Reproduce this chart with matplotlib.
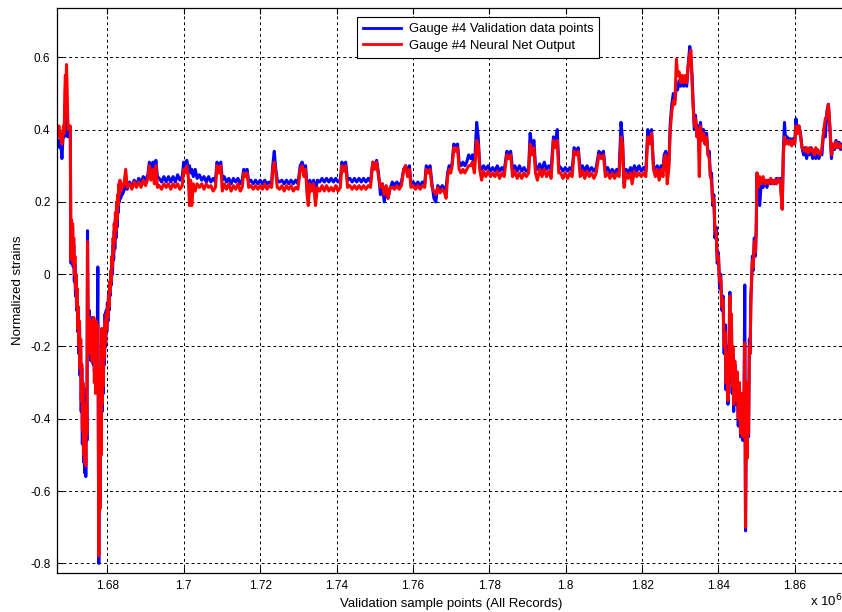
import numpy as np
import matplotlib
matplotlib.use('Agg')
import matplotlib.pyplot as plt

plt.rcParams['font.family'] = ['Liberation Sans', 'DejaVu Sans']
plt.rcParams['axes.unicode_minus'] = False

# sample index (thousands of samples)
x_k = [
    1666.9, 1667.1, 1667.3, 1667.5, 1667.7, 1667.9, 1668.1, 1668.3, 1668.5, 1668.7,
    1668.85, 1669.0, 1669.15, 1669.3, 1669.45, 1669.6, 1669.75, 1669.95, 1670.15, 1670.3,
    1670.4, 1670.5, 1670.6, 1670.75, 1670.9, 1671.05, 1671.2, 1671.35, 1671.5, 1671.65,
    1671.8, 1671.95, 1672.1, 1672.25, 1672.4, 1672.55, 1672.7, 1672.85, 1673.0, 1673.15,
    1673.3, 1673.45, 1673.6, 1673.75, 1673.9, 1674.05, 1674.2, 1674.35, 1674.5, 1674.65,
    1674.8, 1674.95, 1675.1, 1675.25, 1675.4, 1675.55, 1675.7, 1675.85, 1676.0, 1676.15,
    1676.3, 1676.45, 1676.6, 1676.75, 1676.9, 1677.05, 1677.2, 1677.35, 1677.5, 1677.6,
    1677.75, 1677.9, 1678.05, 1678.2, 1678.35, 1678.5, 1678.65, 1678.8, 1678.95, 1679.1,
    1679.25, 1679.4, 1679.55, 1679.7, 1679.85, 1680.0, 1680.15, 1680.3, 1680.45, 1680.6,
    1680.75, 1680.9, 1681.05, 1681.2, 1681.35, 1681.5, 1681.65, 1681.8, 1681.95, 1682.1,
    1682.25, 1682.4, 1682.55, 1682.7, 1682.85, 1683.0, 1683.15, 1683.3, 1683.5, 1683.7,
    1683.9,
    1684.3, 1684.8, 1685.2, 1685.8, 1686.4, 1687.0, 1687.6, 1688.2, 1688.8, 1689.4,
    1690.0, 1690.6, 1691.0, 1691.4, 1691.9, 1692.3, 1692.7, 1693.1, 1693.6, 1694.2,
    1694.8, 1695.4, 1696.0, 1696.6, 1697.2, 1697.8, 1698.4, 1699.0, 1699.6, 1700.0,
    1700.4, 1700.8, 1701.2, 1701.5, 1701.8, 1702.1, 1702.5, 1703.0, 1703.5, 1704.1,
    1704.7, 1705.3, 1705.9, 1706.5, 1707.1, 1707.7, 1708.3, 1708.7, 1709.2, 1709.7,
    1710.1, 1710.6, 1711.2, 1711.8, 1712.4, 1713.0, 1713.6, 1714.2, 1714.8, 1715.3,
    1715.7, 1716.2, 1716.6, 1717.0, 1717.6, 1718.2, 1718.8, 1719.4, 1720.0, 1720.6,
    1721.2, 1721.8, 1722.4, 1723.0, 1723.3, 1723.7, 1724.1, 1724.5, 1725.1, 1725.7,
    1726.3, 1726.9, 1727.5, 1728.1, 1728.7, 1729.3, 1729.9, 1730.5, 1731.0, 1731.5,
    1731.9, 1732.3, 1732.6, 1733.0, 1733.5, 1734.0, 1734.5, 1735.0, 1735.6, 1736.2,
    1736.8, 1737.4, 1738.0, 1738.6, 1739.2, 1739.8, 1740.4, 1741.0, 1741.4, 1741.9,
    1742.4, 1742.9, 1743.5, 1744.1, 1744.7, 1745.3, 1745.9, 1746.5, 1747.1, 1747.7,
    1748.3, 1748.9, 1749.5, 1750.0, 1750.5, 1751.0, 1751.5, 1752.0, 1752.5, 1753.0,
    1753.5, 1754.0, 1754.6, 1755.2, 1755.8, 1756.4, 1757.0, 1757.6, 1758.1, 1758.6,
    1759.1, 1759.5, 1760.1, 1760.7, 1761.3, 1761.9, 1762.5, 1763.1, 1763.5, 1764.0,
    1764.5, 1765.0, 1765.5, 1766.0, 1766.5, 1767.1, 1767.7, 1768.3, 1768.7, 1769.1,
    1769.5, 1769.9, 1770.3, 1770.7, 1771.2, 1771.7, 1772.1, 1772.6, 1773.1, 1773.6,
    1774.1, 1774.6, 1775.1, 1775.6, 1776.1, 1776.7, 1777.1, 1777.5, 1778.0, 1778.5,
    1779.1, 1779.7, 1780.3, 1780.9, 1781.5, 1782.1, 1782.7, 1783.3, 1783.9, 1784.6,
    1785.1, 1785.6, 1786.1, 1786.7, 1787.3, 1787.9, 1788.5, 1789.1, 1789.7, 1790.3,
    1790.7, 1791.2, 1791.7, 1792.1, 1792.6, 1793.2, 1793.8, 1794.4, 1795.0, 1795.6,
    1796.2, 1796.8, 1797.3, 1797.8, 1798.2, 1798.7, 1799.3, 1799.9, 1800.5, 1801.1,
    1801.7, 1802.2, 1802.8, 1803.3, 1803.8, 1804.4, 1805.0, 1805.6, 1806.2, 1806.8,
    1807.4, 1808.0, 1808.7, 1809.3, 1809.9, 1810.4, 1811.0, 1811.6, 1812.2, 1812.8,
    1813.4, 1814.0, 1814.5, 1814.9, 1815.3, 1815.8, 1816.4, 1817.0, 1817.4, 1818.0,
    1818.6, 1819.2, 1819.8, 1820.4, 1821.0, 1821.5, 1822.0, 1822.5, 1823.0, 1823.5,
    1824.0, 1824.5, 1825.0, 1825.5, 1825.8, 1826.2, 1826.6, 1827.0, 1827.4, 1827.8,
    1828.2, 1828.6, 1829.0, 1829.3, 1829.7, 1830.1, 1830.5, 1830.9, 1831.3, 1831.7,
    1832.1, 1832.5, 1832.8, 1833.1, 1833.4, 1833.7, 1834.0, 1834.4, 1834.7, 1835.0,
    1835.3, 1835.7, 1836.1, 1836.5, 1836.9, 1837.3, 1837.6, 1837.9, 1838.2, 1838.5,
    1838.8, 1839.1, 1839.4, 1839.7, 1840.0, 1840.3, 1840.6, 1840.9, 1841.2, 1841.5,
    1841.8, 1842.0, 1842.3, 1842.5, 1842.8, 1843.0, 1843.2, 1843.4, 1843.6, 1843.8,
    1844.0, 1844.3, 1844.6, 1844.9, 1845.2, 1845.5, 1845.8, 1846.1, 1846.4, 1846.7,
    1846.9, 1847.1, 1847.3, 1847.5, 1847.7, 1847.9, 1848.1, 1848.3, 1848.5, 1848.7,
    1848.9, 1849.1, 1849.4, 1849.7, 1849.9, 1850.1, 1850.4, 1850.8, 1851.2, 1851.7,
    1852.2, 1852.7, 1853.2, 1853.7, 1854.2, 1854.7, 1855.2, 1855.7, 1856.2, 1856.7,
    1857.0, 1857.3, 1857.6, 1858.0, 1858.4, 1858.8, 1859.2, 1859.6, 1860.0, 1860.3,
    1860.7, 1861.1, 1861.5, 1861.9, 1862.3, 1862.7, 1863.1, 1863.5, 1863.9, 1864.3,
    1864.7, 1865.1, 1865.5, 1865.9, 1866.3, 1866.7, 1867.1, 1867.6, 1868.0, 1868.4,
    1868.8, 1869.2, 1869.6, 1870.0, 1870.4, 1870.8, 1871.2, 1871.6, 1872.0, 1872.4,
    1872.8, 1873.2,
]

# Gauge #4 validation data
gauge = [
    .37, .36, .37, .35, .36, .35, .32, .36, .40, .38,
    .47, .44, .48, .46, .42, .38, .39, .40, .38, .39,
    .15, .03, .14, .05, .13, .02, .08, -.02, .03, -.06,
    -.01, -.10, -.05, -.16, -.10, -.22, -.14, -.28, -.18, -.38,
    -.26, -.47, -.31, -.52, -.38, -.55, -.41, -.56, -.32, -.46,
    .12, -.18, -.21, -.10, -.22, -.12, -.24, -.15, -.22, -.12,
    -.25, -.14, -.27, -.13, -.30, -.15, -.26, -.17, .02, -.35,
    -.80, -.44, -.63, -.28, -.50, -.17, -.38, -.20, -.33, -.15,
    -.25, -.11, -.20, -.10, -.16, -.08, -.13, -.05, -.10, -.03,
    -.06, .00, -.03, .03, .00, .08, .04, .12, .07, .15,
    .10, .18, .13, .21, .17, .22, .20, .24, .21, .23,
    .22,
    .23, .25, .235, .255, .24, .26, .245, .265, .255, .27,
    .26, .275, .31, .28, .31, .27, .315, .27, .265, .255,
    .27, .255, .27, .255, .27, .255, .275, .26, .27, .31,
    .30, .315, .29, .30, .28, .29, .27, .29, .265, .275,
    .26, .27, .255, .27, .255, .265, .255, .31, .295, .31,
    .26, .27, .255, .265, .25, .265, .255, .265, .25, .26,
    .29, .285, .29, .255, .26, .25, .26, .25, .26, .25,
    .26, .25, .255, .25, .30, .34, .29, .26, .255, .26,
    .25, .26, .25, .26, .25, .26, .25, .30, .31, .29,
    .30, .24, .21, .26, .24, .26, .23, .26, .255, .265,
    .255, .265, .255, .265, .255, .265, .255, .26, .31, .30,
    .31, .26, .265, .255, .265, .255, .265, .255, .265, .255,
    .265, .255, .31, .30, .315, .28, .22, .25, .20, .24,
    .21, .235, .255, .245, .255, .245, .255, .29, .30, .28,
    .30, .25, .255, .245, .255, .245, .255, .25, .30, .29,
    .30, .25, .21, .20, .245, .235, .245, .235, .24, .28,
    .30, .29, .31, .36, .355, .36, .31, .30, .31, .30,
    .31, .33, .32, .33, .29, .42, .38, .30, .29, .30,
    .29, .30, .285, .295, .285, .30, .285, .295, .285, .34,
    .33, .34, .29, .30, .285, .30, .285, .295, .285, .29,
    .39, .35, .37, .30, .29, .305, .29, .31, .29, .30,
    .29, .38, .36, .40, .30, .295, .285, .295, .285, .295,
    .285, .35, .34, .35, .29, .30, .285, .30, .285, .295,
    .285, .295, .34, .33, .34, .285, .295, .28, .29, .28,
    .29, .285, .42, .37, .25, .29, .28, .295, .28, .30,
    .285, .30, .285, .295, .285, .40, .37, .40, .30, .29,
    .30, .28, .30, .29, .33, .34, .32, .30, .42, .47,
    .50, .48, .52, .51, .535, .52, .535, .52, .53, .52,
    .58, .63, .60, .55, .47, .40, .44, .38, .41, .39,
    .42, .37, .40, .36, .39, .33, .34, .27, .28, .19,
    .22, .10, .13, .03, .06, -.04, .00, -.10, -.06, -.22,
    -.14, -.32, -.20, -.36, -.18, -.05, -.30, -.12, -.33, -.22,
    -.38, -.25, -.36, -.28, -.42, -.32, -.45, -.34, -.46, -.36,
    -.03, -.71, -.40, -.50, -.30, -.45, -.18, -.22, -.06, -.02,
    .05, .01, .10, .05, .13, .28, .22, .19, .25, .24,
    .26, .24, .26, .25, .26, .25, .265, .255, .265, .18,
    .34, .42, .37, .38, .36, .375, .36, .375, .365, .43,
    .39, .41, .39, .35, .33, .35, .32, .345, .33, .35,
    .32, .34, .32, .345, .32, .34, .33, .40, .38, .45,
    .47, .40, .32, .36, .345, .37, .35, .365, .345, .36,
    .35, .355,
]

# Gauge #4 neural net output
net_out = [
    .40, .38, .41, .38, .39, .37, .36, .38, .41, .39,
    .50, .55, .50, .58, .52, .44, .40, .41, .40, .41,
    .14, .04, .15, .07, .14, .03, .10, .00, .05, -.04,
    .00, -.09, -.04, -.15, -.09, -.20, -.13, -.26, -.18, -.35,
    -.25, -.43, -.30, -.50, -.36, -.52, -.40, -.53, -.36, -.44,
    .09, -.10, -.22, -.12, -.20, -.14, -.22, -.13, -.24, -.14,
    -.22, -.12, -.30, -.15, -.33, -.13, -.28, -.15, -.14, -.28,
    -.78, -.40, -.65, -.26, -.50, -.15, -.36, -.20, -.31, -.16,
    -.23, -.13, -.19, -.11, -.15, -.09, -.12, -.06, -.09, -.02,
    -.05, .01, -.02, .05, .02, .10, .06, .14, .09, .17,
    .12, .20, .15, .22, .19, .25, .22, .26, .23, .25,
    .24,
    .245, .29, .24, .25, .235, .255, .24, .255, .24, .26,
    .245, .265, .30, .26, .29, .25, .30, .24, .245, .235,
    .25, .24, .25, .235, .25, .24, .25, .235, .245, .29,
    .28, .30, .27, .19, .26, .19, .25, .23, .25, .24,
    .25, .235, .25, .24, .245, .23, .24, .30, .28, .30,
    .23, .25, .235, .25, .23, .245, .235, .25, .23, .24,
    .28, .27, .28, .24, .245, .235, .245, .235, .245, .235,
    .25, .235, .245, .24, .29, .31, .28, .24, .235, .245,
    .23, .245, .235, .245, .23, .24, .235, .29, .30, .27,
    .29, .22, .19, .25, .23, .25, .19, .24, .23, .245,
    .23, .245, .23, .24, .23, .245, .23, .24, .30, .285,
    .30, .24, .245, .235, .245, .235, .245, .235, .245, .235,
    .245, .24, .31, .29, .31, .27, .24, .25, .22, .245,
    .21, .24, .24, .235, .245, .235, .245, .29, .30, .27,
    .29, .24, .245, .235, .245, .235, .245, .24, .29, .28,
    .29, .24, .23, .22, .24, .225, .235, .225, .21, .27,
    .29, .28, .30, .35, .34, .35, .29, .28, .29, .28,
    .29, .30, .30, .31, .28, .37, .36, .29, .26, .285,
    .27, .285, .27, .28, .27, .285, .265, .28, .27, .33,
    .32, .33, .27, .285, .265, .28, .265, .28, .27, .28,
    .36, .33, .35, .28, .26, .29, .27, .29, .27, .285,
    .265, .37, .35, .37, .28, .28, .265, .28, .265, .28,
    .27, .34, .33, .34, .27, .285, .265, .285, .27, .28,
    .265, .28, .33, .32, .33, .27, .28, .265, .28, .265,
    .28, .27, .38, .36, .24, .28, .265, .28, .25, .285,
    .27, .28, .27, .28, .27, .38, .36, .39, .29, .27,
    .29, .26, .29, .27, .32, .33, .25, .29, .40, .45,
    .48, .47, .595, .55, .56, .53, .55, .53, .55, .53,
    .58, .61, .62, .53, .46, .41, .43, .38, .40, .27,
    .41, .37, .39, .36, .38, .33, .32, .27, .26, .20,
    .21, .12, .12, .04, .05, -.02, -.01, -.09, -.07, -.20,
    -.16, -.30, -.22, -.35, -.20, -.06, -.28, -.11, -.31, -.20,
    -.36, -.24, -.35, -.27, -.40, -.30, -.44, -.33, -.45, -.35,
    -.19, -.70, -.38, -.51, -.30, -.44, -.20, -.22, -.08, -.01,
    .04, .02, .09, .06, .12, .28, .24, .27, .25, .27,
    .25, .26, .25, .265, .25, .26, .25, .265, .255, .18,
    .33, .38, .36, .37, .36, .37, .355, .37, .36, .41,
    .39, .41, .38, .35, .345, .34, .35, .335, .35, .34,
    .345, .33, .35, .335, .34, .33, .35, .40, .43, .44,
    .47, .41, .33, .36, .35, .365, .35, .36, .35, .355,
    .36, .35,
]

xtick_vals = [1.68, 1.70, 1.72, 1.74, 1.76, 1.78, 1.80, 1.82, 1.84, 1.86]
xtick_labels = ['1.68', '1.7', '1.72', '1.74', '1.76', '1.78', '1.8', '1.82', '1.84', '1.86']
ytick_vals = [-0.8, -0.6, -0.4, -0.2, 0, 0.2, 0.4, 0.6]
ytick_labels = ['-0.8', '-0.6', '-0.4', '-0.2', '0', '0.2', '0.4', '0.6']

x = np.array(x_k) * 1000.0

fig = plt.figure(figsize=(8.42, 6.12), dpi=100)
ax = fig.add_axes([0.0681, 0.0637, 0.9357, 0.9232])

ax.plot(x, gauge, color=(0, 0, 1), lw=2.2, label='Gauge #4 Validation data points')
ax.plot(x, net_out, color=(1, 0, 0), lw=2.2, label='Gauge #4 Neural Net Output')

ax.set_xlim(1666.9e3, 1873.2e3)
ax.set_ylim(-0.8268, 0.7364)
ax.set_xticks([v * 1e6 for v in xtick_vals])
ax.set_xticklabels(xtick_labels)
ax.set_yticks(ytick_vals)
ax.set_yticklabels(ytick_labels)

ax.grid(True, color='black', linestyle=(0, (3, 3)), linewidth=0.7)
ax.tick_params(direction='in', length=4, width=0.8, top=True, right=True,
               labelsize=8.5, pad=5)
for s in ax.spines.values():
    s.set_linewidth(0.9)

ax.set_xlabel('Validation sample points (All Records)', fontsize=9.5, labelpad=4)
ax.set_ylabel('Normalized strains', fontsize=9.5, labelpad=4)

leg = ax.legend(loc='upper left', bbox_to_anchor=(0.3804, 0.984), borderaxespad=0,
                fancybox=False, framealpha=1, edgecolor='black', fontsize=9.4,
                handlelength=2.9, handletextpad=0.6, borderpad=0.45, labelspacing=0.35)
leg.get_frame().set_linewidth(0.8)
for h in leg.get_lines():
    h.set_linewidth(2.0)

fig.text(0.962, 0.004, r'x 10$^6$', fontsize=9.5, ha='left', va='bottom')

fig.savefig('out.png', dpi=100)
